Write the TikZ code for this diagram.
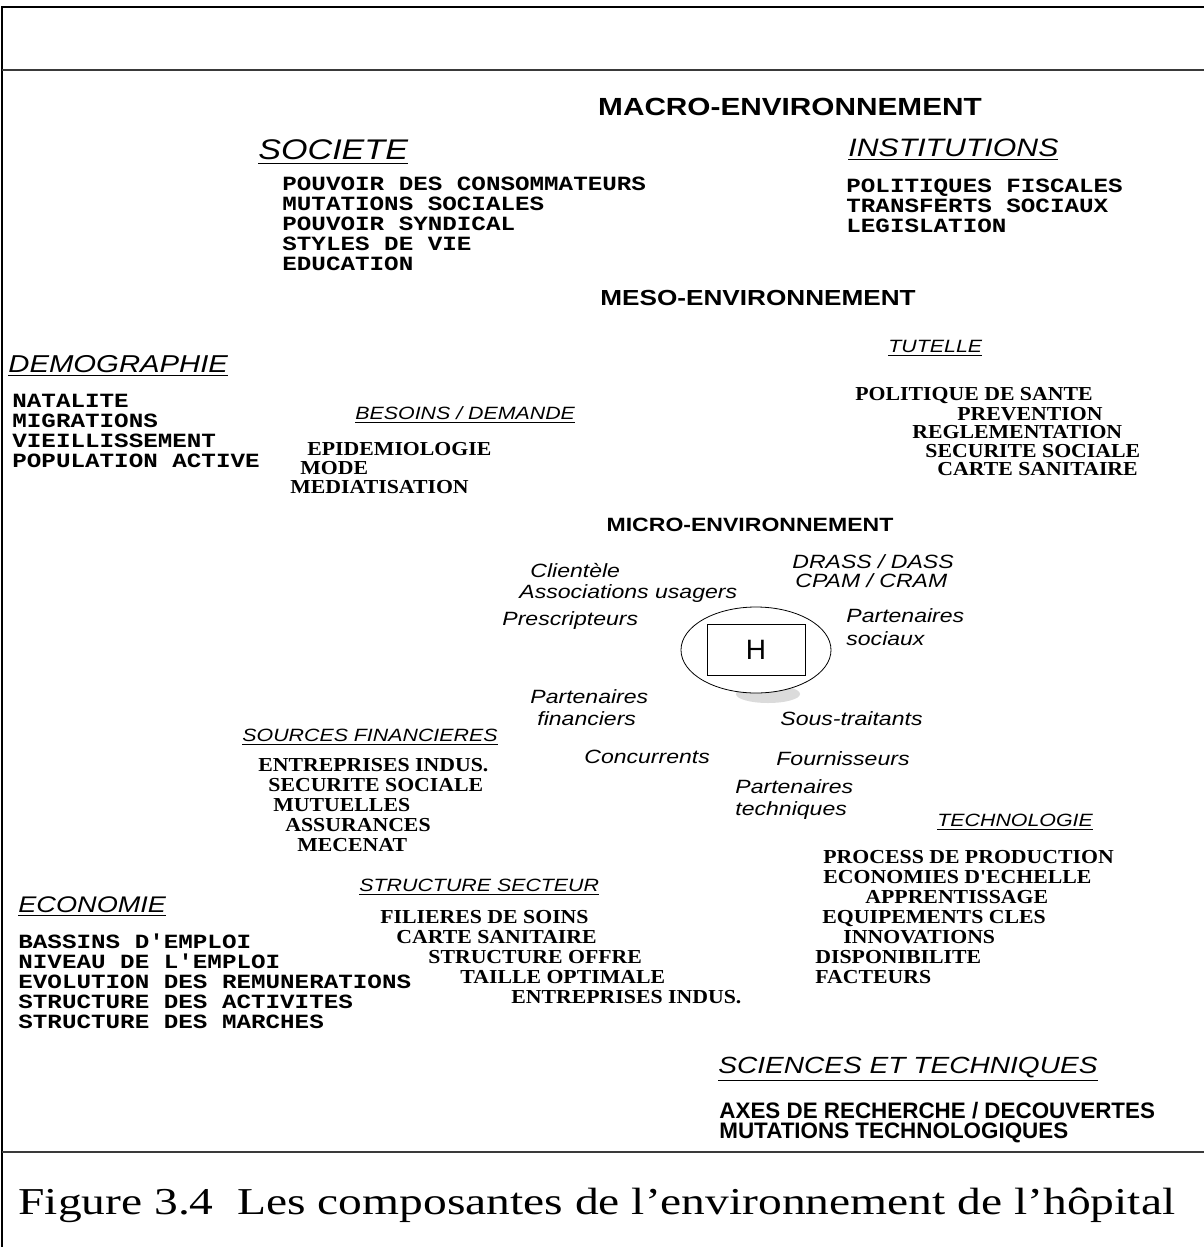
\documentclass[tikz,border=0pt]{standalone}
\usepackage{fontspec}
\setmainfont{Liberation Serif}
\newfontfamily\widesans[FakeStretch=1.2]{Liberation Sans}
\newfontfamily\widemono[FakeStretch=1.2]{Liberation Mono}
\newfontfamily\wideserif[FakeStretch=1.1]{Liberation Serif}
\newfontfamily\captionserif[FakeStretch=1.25, Ligatures=TeX]{Liberation Serif}
\newfontfamily\plainsans{Liberation Sans}
\usetikzlibrary{shapes.geometric}
\definecolor{rulegray}{HTML}{3A3A3A}

\begin{document}
\begin{tikzpicture}[x=0.5pt, y=-0.5pt,
  every node/.style={inner sep=0pt, anchor=base west},
  envhead/.style={font=\widesans\bfseries\fontsize{#1}{14}\selectfont, anchor=base},
  envhead/.default=12.4,
  bighead/.style={font=\widesans\itshape\fontsize{#1}{14}\selectfont},
  bighead/.default=12,
  smallhead/.style={font=\widesans\itshape\fontsize{8.9}{10}\selectfont},
  monoitem/.style={font=\widemono\bfseries\fontsize{10.1}{10}\selectfont},
  serifitem/.style={font=\wideserif\bfseries\fontsize{9.9}{10}\selectfont},
  microitem/.style={font=\widesans\itshape\fontsize{9.6}{10}\selectfont},
  sciitem/.style={font=\plainsans\bfseries\fontsize{11.2}{10}\selectfont},
  frame/.style={draw=black, line width=1pt},
  rule/.style={draw=rulegray, line width=1.2pt},
]
\useasboundingbox (0,0) rectangle (1204,1247);

% frame and rules
\draw[frame] (2,1247) -- (2,7) -- (1204,7);
\draw[rule] (2,70) -- (1204,70);
\draw[rule] (2,1152) -- (1204,1152);

% environment levels
\node[envhead] (macro) at (790,116) {MACRO-ENVIRONNEMENT};
\node[envhead=10.9] (meso) at (758,305) {MESO-ENVIRONNEMENT};
\node[envhead=9.6] (micro) at (750,531) {MICRO-ENVIRONNEMENT};

% macro
\node[bighead=14.2] (societe) at (258,160) {\underline{SOCIETE}};
\foreach \txt [count=\i] in {POUVOIR DES CONSOMMATEURS, MUTATIONS SOCIALES,
    POUVOIR SYNDICAL, STYLES DE VIE, EDUCATION}
  \node[monoitem] (soc\i) at (282,{170+20*\i}) {\txt};

\node[bighead=12.6] (instit) at (848,156) {\underline{INSTITUTIONS}};
\foreach \txt [count=\i] in {POLITIQUES FISCALES, TRANSFERTS SOCIAUX, LEGISLATION}
  \node[monoitem] (inst\i) at (846,{172+20*\i}) {\txt};

\node[bighead=12.2] (demo) at (8,372) {\underline{DEMOGRAPHIE}};
\foreach \txt [count=\i] in {NATALITE, MIGRATIONS, VIEILLISSEMENT, POPULATION ACTIVE}
  \node[monoitem] (dem\i) at (12,{387+20*\i}) {\txt};

\node[bighead=11.3] (economie) at (18,912) {\underline{ECONOMIE}};
\foreach \txt [count=\i] in {BASSINS D'EMPLOI, NIVEAU DE L'EMPLOI,
    EVOLUTION DES REMUNERATIONS, STRUCTURE DES ACTIVITES, STRUCTURE DES MARCHES}
  \node[monoitem] (eco\i) at (18,{928+20*\i}) {\txt};

\node[bighead=11.7] (sciences) at (718,1073) {\underline{SCIENCES ET TECHNIQUES}};
\node[sciitem] (sci1) at (719,1118) {AXES DE RECHERCHE / DECOUVERTES};
\node[sciitem] (sci2) at (719,1138) {MUTATIONS TECHNOLOGIQUES};

% meso
\node[smallhead] (besoins) at (355,419) {\underline{BESOINS / DEMANDE}};
\foreach \dx/\dy/\txt [count=\i] in {307/455/EPIDEMIOLOGIE, 300/474/MODE, 290/493/MEDIATISATION}
  \node[serifitem] (bes\i) at (\dx,\dy) {\txt};

\node[smallhead] (tutelle) at (888,352) {\underline{TUTELLE}};
\foreach \dx/\dy/\txt [count=\i] in {855/400/POLITIQUE DE SANTE, 957/420/PREVENTION,
    912/438/REGLEMENTATION, 925/457/SECURITE SOCIALE, 937/475/CARTE SANITAIRE}
  \node[serifitem] (tut\i) at (\dx,\dy) {\txt};

\node[smallhead] (sources) at (242,741) {\underline{SOURCES FINANCIERES}};
\foreach \dx/\txt [count=\i] in {258/ENTREPRISES INDUS., 268/SECURITE SOCIALE,
    273/MUTUELLES, 285/ASSURANCES, 297/MECENAT}
  \node[serifitem] (src\i) at (\dx,{751+20*\i}) {\txt};

\node[smallhead] (secteur) at (359,891) {\underline{STRUCTURE SECTEUR}};
\foreach \dx/\txt [count=\i] in {380/FILIERES DE SOINS, 396/CARTE SANITAIRE,
    428/STRUCTURE OFFRE, 460/TAILLE OPTIMALE, 511/ENTREPRISES INDUS.}
  \node[serifitem] (sec\i) at (\dx,{903+20*\i}) {\txt};

\node[smallhead] (techno) at (937,826) {\underline{TECHNOLOGIE}};
\foreach \dx/\txt [count=\i] in {823/PROCESS DE PRODUCTION, 823/ECONOMIES D'ECHELLE,
    865/APPRENTISSAGE, 822/EQUIPEMENTS CLES, 843/INNOVATIONS, 815/DISPONIBILITE, 815/FACTEURS}
  \node[serifitem] (tec\i) at (\dx,{843+20*\i}) {\txt};

% micro
\node[microitem] (drass) at (792,568) {DRASS / DASS};
\node[microitem] (cpam) at (795,587) {CPAM / CRAM};
\node[microitem] (clientele) at (530,577) {Clientèle};
\node[microitem] (assoc) at (519,598) {Associations usagers};
\node[microitem] (prescr) at (502,625) {Prescripteurs};
\node[microitem] (partsoc) at (846,622) {Partenaires};
\node[microitem] (partsoc2) at (846,645) {sociaux};
\node[microitem] (partfin) at (530,703) {Partenaires};
\node[microitem] (partfin2) at (537,725) {financiers};
\node[microitem] (soustr) at (780,725) {Sous-traitants};
\node[microitem] (concur) at (584,763) {Concurrents};
\node[microitem] (fourn) at (776,765) {Fournisseurs};
\node[microitem] (parttec) at (735,793) {Partenaires};
\node[microitem] (parttec2) at (735,815) {techniques};

% hospital
\node[ellipse, fill=gray!28, anchor=center, minimum width=32pt, minimum height=9pt] (hshadow) at (768,694) {};
\node[draw, ellipse, fill=white, anchor=center, minimum width=75pt, minimum height=43pt] (hring) at (756,650) {};
\node[draw, anchor=center, minimum width=49pt, minimum height=25.5pt,
  font=\plainsans\fontsize{14}{14}\selectfont] (hosp) at (hring.center) {H};

% caption
\node[font=\captionserif\fontsize{19}{22}\selectfont] (caption) at (18,1214)
  {Figure 3.4\ \ Les composantes de l’environnement de l’hôpital};
\end{tikzpicture}
\end{document}
